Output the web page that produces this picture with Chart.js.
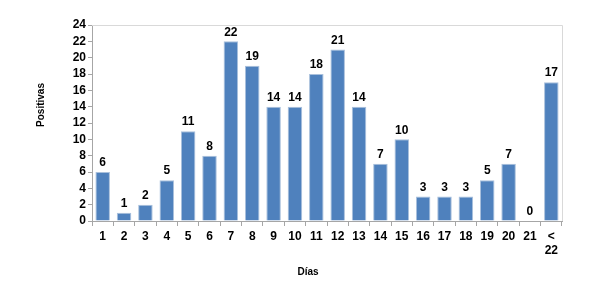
<!DOCTYPE html>
<html>
<head>
<meta charset="utf-8">
<script src="https://cdn.jsdelivr.net/npm/chart.js@4"></script>
<style>
html,body{margin:0;padding:0;background:#fff;}
#wrap{width:589px;height:287px;position:relative;}
</style>
</head>
<body>
<div id="wrap"><canvas id="c" width="589" height="287"></canvas></div>
<script>
const categories = ['1','2','3','4','5','6','7','8','9','10','11','12','13','14','15','16','17','18','19','20','21',['<','22']];
const positivas = [6,1,2,5,11,8,22,19,14,14,18,21,14,7,10,3,3,3,5,7,0,17];
const yTicks = [0,2,4,6,8,10,12,14,16,18,20,22,24];
const xTitle = 'Días';
const yTitle = 'Positivas';

const FONT = '"Liberation Sans", Arial, sans-serif';

const extras = {
  id: 'extras',
  afterDatasetsDraw(chart) {
    const ctx = chart.ctx;
    const a = chart.chartArea;
    ctx.save();
    ctx.strokeStyle = '#d9d9d9';
    ctx.lineWidth = 1;
    ctx.beginPath();
    ctx.moveTo(a.left, a.top + 0.5);
    ctx.lineTo(a.right + 0.5, a.top + 0.5);
    ctx.lineTo(a.right + 0.5, a.bottom);
    ctx.stroke();
    ctx.fillStyle = '#000';
    ctx.font = 'bold 12px ' + FONT;
    ctx.textAlign = 'center';
    ctx.textBaseline = 'bottom';
    const meta = chart.getDatasetMeta(0);
    meta.data.forEach((bar, i) => {
      ctx.fillText(String(positivas[i]), bar.x, bar.y - 3);
    });
    ctx.font = 'bold 10px ' + FONT;
    ctx.textBaseline = 'middle';
    ctx.fillText(xTitle, 308, 272);
    ctx.translate(41, 105);
    ctx.rotate(-Math.PI / 2);
    ctx.fillText(yTitle, 0, 0);
    ctx.restore();
  }
};

new Chart(document.getElementById('c'), {
  type: 'bar',
  data: {
    labels: categories,
    datasets: [{
      data: positivas,
      backgroundColor: '#4f81bd',
      borderColor: '#a9c0dc',
      borderWidth: 1,
      barPercentage: 0.68,
      categoryPercentage: 1
    }]
  },
  options: {
    responsive: false,
    animation: false,
    layout: { padding: { top: 25, right: 27, left: 0, bottom: 0 } },
    plugins: { legend: { display: false }, tooltip: { enabled: false } },
    scales: {
      x: {
        offset: true,
        grid: { offset: true, drawOnChartArea: false, drawTicks: true, tickLength: 5, color: '#a6a6a6' },
        border: { color: '#a6a6a6' },
        ticks: { color: '#000', font: { family: FONT, size: 12, weight: 'bold' }, padding: 3, maxRotation: 0, autoSkip: false },
        afterFit(s) { s.height = 66; }
      },
      y: {
        min: 0, max: 24,
        afterBuildTicks(s) { s.ticks = yTicks.map(v => ({ value: v })); },
        grid: { drawOnChartArea: false, drawTicks: true, tickLength: 4, color: '#a6a6a6' },
        border: { color: '#a6a6a6' },
        ticks: { color: '#000', font: { family: FONT, size: 12, weight: 'bold' }, padding: 2, autoSkip: false },
        afterFit(s) { s.width = 92; }
      }
    }
  },
  plugins: [extras]
});
</script>
</body>
</html>
